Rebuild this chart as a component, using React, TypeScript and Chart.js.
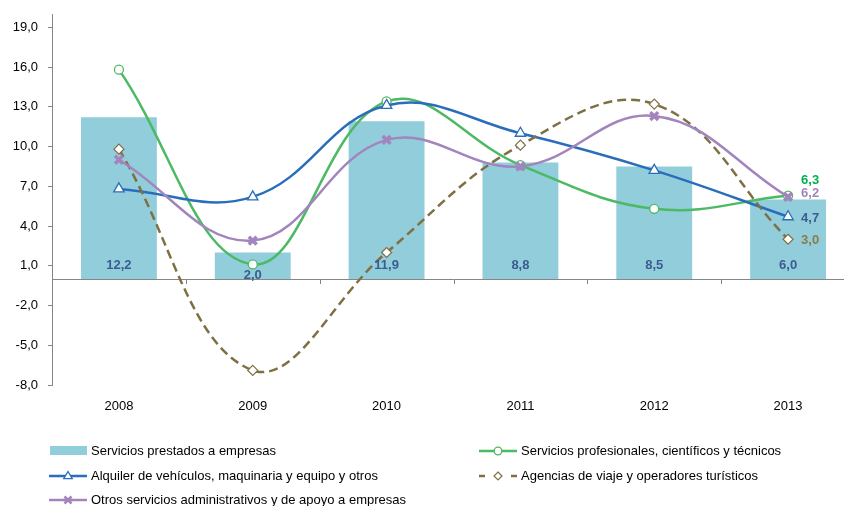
import React, { useEffect, useRef } from "react";
import { Chart, registerables } from "chart.js";

Chart.register(...registerables);

// ---- data ----
const categories = ["2008", "2009", "2010", "2011", "2012", "2013"];
const serviciosPrestados = [12.2, 2.0, 11.9, 8.8, 8.5, 6.0];
const profesionales = [15.8, 1.1, 13.4, 8.6, 5.3, 6.3];
const alquiler = [6.8, 6.2, 13.1, 11.0, 8.2, 4.7];
const agencias = [9.8, -6.9, 2.0, 10.1, 13.2, 3.0];
const otros = [9.0, 2.9, 10.5, 8.5, 12.3, 6.2];
const yTickValues = [-8, -5, -2, 1, 4, 7, 10, 13, 16, 19];
const seriesNames = [
  "Servicios prestados a empresas",
  "Servicios profesionales, científicos y técnicos",
  "Alquiler de vehículos, maquinaria y equipo y otros",
  "Agencias de viaje y operadores turísticos",
  "Otros servicios administrativos y de apoyo a empresas",
];

// ---- styles ----
const FONT = "'Liberation Sans', Arial, sans-serif";
const BAR_COLOR = "#92CDDC";
const GREEN = "#4CB963";
const BLUE = "#2A6EBB";
const OLIVE = "#7F7044";
const PURPLE = "#A285BD";
const AXIS = "#868686";
const BAR_LABEL = "#3B5C8F";
const END_LABEL_COLORS = ["#00B050", "#3B5C8F", "#8A7B48", "#A285BD"];
const END_LABEL_DY = [-15, 2, 1, -3];

const fmt = (v: number) => v.toFixed(1).replace(".", ",");

const overlayPlugin = {
  id: "overlay",
  beforeDatasetsDraw(chart: any) {
    const ctx = chart.ctx;
    const { left, right } = chart.chartArea;
    const y0 = chart.scales.y.getPixelForValue(0);
    ctx.save();
    ctx.strokeStyle = AXIS;
    ctx.lineWidth = 1;
    ctx.beginPath();
    ctx.moveTo(left, Math.round(y0) + 0.5);
    ctx.lineTo(right, Math.round(y0) + 0.5);
    const n = categories.length;
    for (let k = 1; k <= n; k++) {
      const x = Math.round(left + ((right - left) * k) / n) + 0.5;
      ctx.moveTo(x, Math.round(y0) + 0.5);
      ctx.lineTo(x, Math.round(y0) + 5);
    }
    ctx.stroke();
    ctx.restore();
  },
  afterDatasetsDraw(chart: any) {
    const ctx = chart.ctx;
    ctx.save();
    // bar labels
    const barMeta = chart.getDatasetMeta(0);
    ctx.font = `bold 13px ${FONT}`;
    ctx.fillStyle = BAR_LABEL;
    ctx.textAlign = "center";
    ctx.textBaseline = "middle";
    barMeta.data.forEach((el: any, i: number) => {
      const h = el.base - el.y;
      const y = h >= 30 ? el.base - 14 : el.base - 4;
      ctx.fillText(fmt(serviciosPrestados[i]), el.x, y);
    });
    // end labels for lines
    const lineData = [profesionales, alquiler, agencias, otros];
    ctx.textAlign = "left";
    for (let d = 1; d <= 4; d++) {
      const meta = chart.getDatasetMeta(d);
      const last = meta.data[meta.data.length - 1];
      const vals = lineData[d - 1];
      ctx.fillStyle = END_LABEL_COLORS[d - 1];
      ctx.fillText(fmt(vals[vals.length - 1]), last.x + 13, last.y + END_LABEL_DY[d - 1]);
    }
    ctx.restore();
  },
  afterDraw(chart: any) {
    const ctx = chart.ctx;
    ctx.save();
    ctx.font = `13px ${FONT}`;
    ctx.textBaseline = "middle";
    ctx.textAlign = "left";
    const rows = [451, 476, 500];
    const c1 = 49, c2 = 479, lw = 38;

    const line = (x: number, y: number, color: string, dashed = false) => {
      ctx.strokeStyle = color;
      ctx.lineWidth = 2.5;
      ctx.beginPath();
      if (dashed) {
        ctx.moveTo(x, y); ctx.lineTo(x + 6, y);
        ctx.moveTo(x + lw - 6, y); ctx.lineTo(x + lw, y);
      } else {
        ctx.moveTo(x, y); ctx.lineTo(x + lw, y);
      }
      ctx.stroke();
    };
    const text = (s: string, x: number, y: number) => {
      ctx.fillStyle = "#000";
      ctx.fillText(s, x + lw + 4, y + 0.5);
    };

    // 1 bar swatch
    ctx.fillStyle = BAR_COLOR;
    ctx.fillRect(c1 + 1, rows[0] - 5, lw - 1, 9);
    text(seriesNames[0], c1, rows[0]);

    // 2 green circle
    line(c2, rows[0], GREEN);
    ctx.fillStyle = "#fff";
    ctx.strokeStyle = GREEN;
    ctx.lineWidth = 1.3;
    ctx.beginPath();
    ctx.arc(c2 + lw / 2, rows[0], 3.8, 0, Math.PI * 2);
    ctx.fill();
    ctx.stroke();
    text(seriesNames[1], c2, rows[0]);

    // 3 blue triangle
    line(c1, rows[1], BLUE);
    {
      const cx = c1 + lw / 2, cy = rows[1], r = 4.5;
      ctx.fillStyle = "#fff";
      ctx.strokeStyle = BLUE;
      ctx.lineWidth = 1.3;
      ctx.beginPath();
      ctx.moveTo(cx, cy - r);
      ctx.lineTo(cx + r * 0.95, cy + r * 0.6);
      ctx.lineTo(cx - r * 0.95, cy + r * 0.6);
      ctx.closePath();
      ctx.fill();
      ctx.stroke();
    }
    text(seriesNames[2], c1, rows[1]);

    // 4 olive diamond dashed
    line(c2, rows[1], OLIVE, true);
    {
      const cx = c2 + lw / 2, cy = rows[1], r = 4;
      ctx.fillStyle = "#fff";
      ctx.strokeStyle = OLIVE;
      ctx.lineWidth = 1.2;
      ctx.beginPath();
      ctx.moveTo(cx, cy - r);
      ctx.lineTo(cx + r, cy);
      ctx.lineTo(cx, cy + r);
      ctx.lineTo(cx - r, cy);
      ctx.closePath();
      ctx.fill();
      ctx.stroke();
    }
    text(seriesNames[3], c2, rows[1]);

    // 5 purple X
    line(c1, rows[2], PURPLE);
    {
      const cx = c1 + lw / 2, cy = rows[2], r = 3.5;
      ctx.strokeStyle = PURPLE;
      ctx.lineWidth = 2.5;
      ctx.beginPath();
      ctx.moveTo(cx - r, cy - r); ctx.lineTo(cx + r, cy + r);
      ctx.moveTo(cx + r, cy - r); ctx.lineTo(cx - r, cy + r);
      ctx.stroke();
    }
    text(seriesNames[4], c1, rows[2]);
    ctx.restore();
  },
};

export default function App() {
  const ref = useRef<HTMLCanvasElement | null>(null);

  useEffect(() => {
    document.body.style.margin = "0";
    document.body.style.overflow = "hidden";
    const canvas = ref.current;
    if (!canvas) return;
    const lineCommon = {
      type: "line" as const,
      borderWidth: 2.5,
      tension: 0.4,
      fill: false,
      pointBackgroundColor: "#fff",
      pointHoverRadius: 5,
    };
    const chart = new Chart(canvas, {
      type: "bar",
      data: {
        labels: categories,
        datasets: [
          {
            type: "bar",
            label: seriesNames[0],
            data: serviciosPrestados,
            backgroundColor: BAR_COLOR,
            barPercentage: 0.567,
            categoryPercentage: 1,
            order: 10,
          },
          {
            ...lineCommon,
            label: seriesNames[1],
            data: profesionales,
            borderColor: GREEN,
            pointStyle: "circle",
            pointRadius: 4.5,
            pointBorderColor: GREEN,
            pointBorderWidth: 1.3,
            order: 4,
          },
          {
            ...lineCommon,
            label: seriesNames[2],
            data: alquiler,
            borderColor: BLUE,
            pointStyle: "triangle",
            pointRadius: 6,
            pointBorderColor: BLUE,
            pointBorderWidth: 1.3,
            order: 3,
          },
          {
            ...lineCommon,
            label: seriesNames[3],
            data: agencias,
            borderColor: OLIVE,
            borderDash: [9, 5],
            pointStyle: "rectRot",
            pointRadius: 5,
            pointBorderColor: OLIVE,
            pointBorderWidth: 1.2,
            order: 2,
          },
          {
            ...lineCommon,
            label: seriesNames[4],
            data: otros,
            borderColor: PURPLE,
            pointStyle: "crossRot",
            pointRadius: 5.5,
            pointBorderColor: PURPLE,
            pointBorderWidth: 3.5,
            order: 1,
          },
        ] as any,
      },
      options: {
        responsive: false,
        animation: false,
        devicePixelRatio: 1,
        layout: { padding: { top: 14, right: 15, left: 0, bottom: 0 } },
        plugins: {
          legend: { display: false },
          tooltip: { enabled: false },
        },
        scales: {
          x: {
            grid: { display: false, drawTicks: false },
            border: { display: false },
            ticks: {
              padding: 14,
              color: "#000",
              font: { family: FONT, size: 13 },
            },
            afterFit: (s: any) => {
              s.height = 121;
            },
          },
          y: {
            min: -8,
            max: 20,
            grid: {
              drawOnChartArea: false,
              drawTicks: true,
              tickLength: 4,
              color: AXIS,
            },
            border: { display: true, color: AXIS, width: 1 },
            ticks: {
              padding: 10,
              color: "#000",
              font: { family: FONT, size: 13 },
              callback: (v: any) => fmt(Number(v)),
            },
            afterBuildTicks: (s: any) => {
              s.ticks = yTickValues.map((v) => ({ value: v }));
            },
            afterFit: (s: any) => {
              s.width = 52;
              s.paddingTop = 0;
              s.paddingBottom = 0;
            },
          },
        },
      } as any,
      plugins: [overlayPlugin],
    });
    return () => chart.destroy();
  }, []);

  return (
    <div
      style={{
        position: "fixed",
        left: 0,
        top: 0,
        width: 844,
        height: 506,
        overflow: "hidden",
        background: "#fff",
      }}
    >
      <canvas ref={ref} width={870} height={506} style={{ display: "block" }} />
    </div>
  );
}
